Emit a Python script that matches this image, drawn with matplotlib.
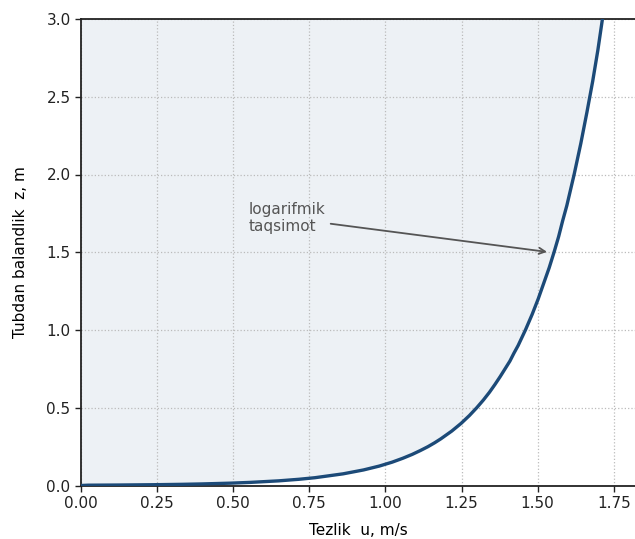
import numpy as np
import matplotlib.pyplot as plt

# velocity profile
z_vals = [0.0, 0.002, 0.003, 0.005, 0.0075, 0.01, 0.015, 0.02, 0.03, 0.04, 0.05,
          0.075, 0.1, 0.125, 0.15, 0.175, 0.2, 0.225, 0.25, 0.275, 0.3, 0.35,
          0.4, 0.45, 0.5, 0.55, 0.6, 0.65, 0.7, 0.75, 0.8, 0.85, 0.9, 0.95,
          1.0, 1.05, 1.1, 1.15, 1.2, 1.3, 1.4, 1.5, 1.6, 1.7, 1.8, 1.9, 2.0,
          2.2, 2.4, 2.6, 2.8, 3.0]
u_vals = [0.0, 0.024, 0.118, 0.236, 0.330, 0.396, 0.490, 0.556, 0.650, 0.716,
          0.768, 0.861, 0.928, 0.980, 1.022, 1.057, 1.088, 1.115, 1.140, 1.162,
          1.182, 1.218, 1.249, 1.276, 1.300, 1.322, 1.342, 1.360, 1.377, 1.393,
          1.409, 1.422, 1.436, 1.448, 1.460, 1.471, 1.482, 1.492, 1.502, 1.520,
          1.538, 1.554, 1.569, 1.582, 1.596, 1.608, 1.620, 1.642, 1.662, 1.681,
          1.698, 1.713]

ANNOT_TEXT = "logarifmik\ntaqsimot"
ANNOT_XY = (1.54, 1.50)
ANNOT_TEXT_XY = (0.55, 1.72)

fig = plt.figure(figsize=(6.35, 5.39), dpi=100)
ax = fig.add_axes([81 / 635, 53.5 / 539, 1 - 81 / 635, 466.5 / 539])

ax.fill_betweenx(z_vals, 0, u_vals, color="#edf1f5", lw=0, zorder=0.2)
ax.plot(u_vals, z_vals, color="#1c4a78", lw=2.4, zorder=3,
        solid_joinstyle="round")

ax.annotate(ANNOT_TEXT, xy=ANNOT_XY, xytext=ANNOT_TEXT_XY,
            fontsize=11, color="#555555", ha="left", va="center",
            arrowprops=dict(arrowstyle="->", color="#555555", lw=1.3))

ax.set_xlim(0, (635 - 81) / 304.4)
ax.set_ylim(0, 3.0)
ax.set_xticks(np.arange(0, 1.76, 0.25))
ax.set_yticks(np.arange(0, 3.01, 0.5))
ax.xaxis.set_major_formatter(plt.FormatStrFormatter("%.2f"))
ax.yaxis.set_major_formatter(plt.FormatStrFormatter("%.1f"))
ax.tick_params(labelsize=11, length=4, width=1, colors="#222222")
ax.grid(True, ls=":", color="#bbbbbb", lw=0.9)
ax.set_axisbelow(True)

ax.set_xlabel("Tezlik  u, m/s", fontsize=11, labelpad=9)
ax.set_ylabel("Tubdan balandlik  z, m", fontsize=11, labelpad=13)

ax.spines["right"].set_visible(False)
for side in ("left", "bottom", "top"):
    ax.spines[side].set_linewidth(1.3)
    ax.spines[side].set_color("#222222")

fig.savefig("out.png", dpi=100)
